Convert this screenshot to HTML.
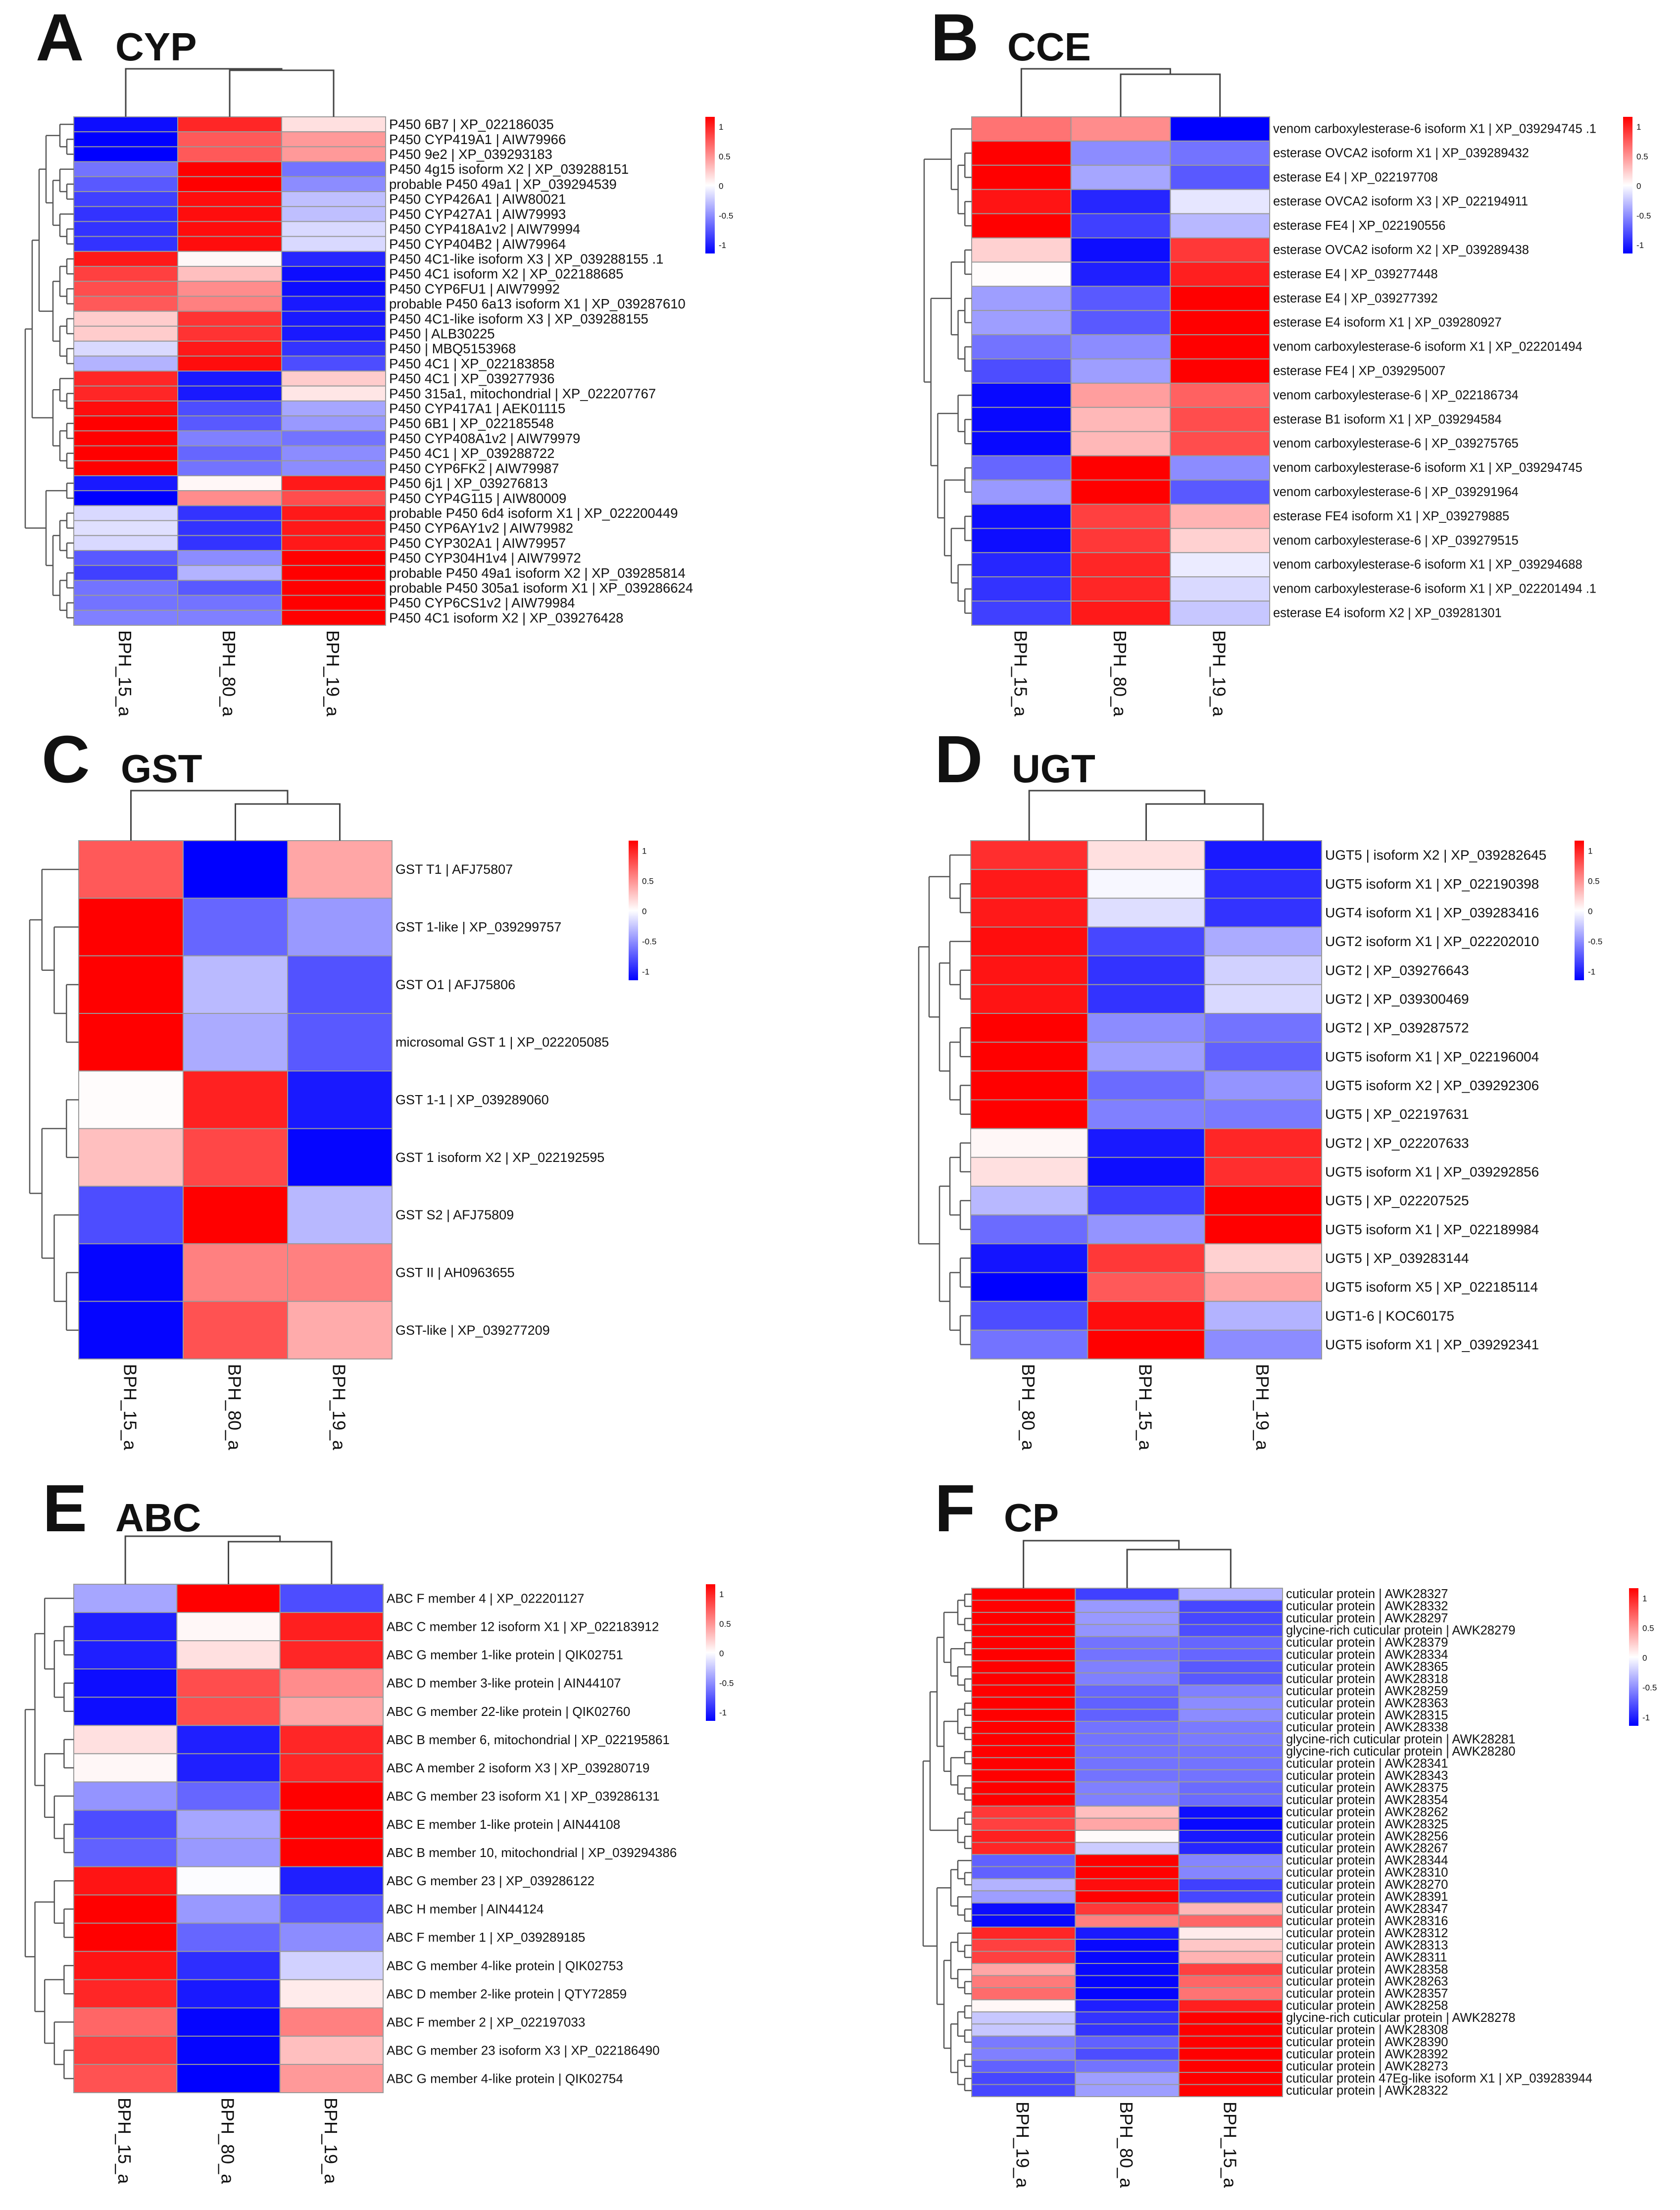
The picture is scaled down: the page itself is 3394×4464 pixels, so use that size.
<!DOCTYPE html>
<html><head><meta charset="utf-8"><style>
html,body{margin:0;padding:0;background:#fff;}
svg{display:block;}
text{font-family:"Liberation Sans",Arial,sans-serif;fill:#111;}
</style></head><body>
<svg id="fig" xmlns="http://www.w3.org/2000/svg" width="3394" height="4464" viewBox="0 0 3394 4464">
<rect width="3394" height="4464" fill="#fff"/>
</svg>
<script>
// ---------- Panel A: CYP ----------
const cypCols = ["BPH_15_a","BPH_80_a","BPH_19_a"];
const cypLabels = ["P450 6B7 | XP_022186035","P450 CYP419A1 | AIW79966","P450 9e2 | XP_039293183","P450 4g15 isoform X2 | XP_039288151","probable P450 49a1 | XP_039294539","P450 CYP426A1 | AIW80021","P450 CYP427A1 | AIW79993","P450 CYP418A1v2 | AIW79994","P450 CYP404B2 | AIW79964","P450 4C1-like isoform X3 | XP_039288155 .1","P450 4C1 isoform X2 | XP_022188685","P450 CYP6FU1 | AIW79992","probable P450 6a13 isoform X1 | XP_039287610","P450 4C1-like isoform X3 | XP_039288155","P450 | ALB30225","P450 | MBQ5153968","P450 4C1 | XP_022183858","P450 4C1 | XP_039277936","P450 315a1, mitochondrial | XP_022207767","P450 CYP417A1 | AEK01115","P450 6B1 | XP_022185548","P450 CYP408A1v2 | AIW79979","P450 4C1 | XP_039288722","P450 CYP6FK2 | AIW79987","P450 6j1 | XP_039276813","P450 CYP4G115 | AIW80009","probable P450 6d4 isoform X1 | XP_022200449","P450 CYP6AY1v2 | AIW79982","P450 CYP302A1 | AIW79957","P450 CYP304H1v4 | AIW79972","probable P450 49a1 isoform X2 | XP_039285814","probable P450 305a1 isoform X1 | XP_039286624","P450 CYP6CS1v2 | AIW79984","P450 4C1 isoform X2 | XP_039276428"];
const cypValues = [[-0.95,0.85,0.12],[-1,0.65,0.4],[-1,0.65,0.4],[-0.55,1,-0.55],[-0.65,1,-0.45],[-0.75,0.95,-0.25],[-0.8,0.95,-0.25],[-0.8,0.95,-0.15],[-0.8,0.95,-0.15],[0.9,0.03,-0.85],[0.75,0.25,-0.95],[0.7,0.45,-0.95],[0.65,0.5,-0.9],[0.2,0.8,-0.9],[0.2,0.8,-0.9],[-0.15,0.9,-0.8],[-0.3,0.95,-0.7],[0.85,-0.9,0.2],[0.85,-0.9,0.1],[0.95,-0.7,-0.35],[1,-0.65,-0.4],[1,-0.5,-0.55],[1,-0.6,-0.45],[1,-0.55,-0.45],[-0.9,0.03,0.9],[-1,0.45,0.7],[-0.15,-0.8,0.9],[-0.12,-0.8,0.9],[-0.15,-0.8,0.9],[-0.65,-0.45,1],[-0.75,-0.3,1],[-0.55,-0.65,1],[-0.55,-0.55,1],[-0.5,-0.5,1]];
const cypTree = [[[[3,6],[4,4]],7],[2,8]];

// ---------- Panel B: CCE ----------
const cceCols = ["BPH_15_a","BPH_80_a","BPH_19_a"];
const cceLabels = ["venom carboxylesterase-6 isoform X1 | XP_039294745 .1","esterase OVCA2 isoform X1 | XP_039289432","esterase E4 | XP_022197708","esterase OVCA2 isoform X3 | XP_022194911","esterase FE4 | XP_022190556","esterase OVCA2 isoform X2 | XP_039289438","esterase E4 | XP_039277448","esterase E4 | XP_039277392","esterase E4 isoform X1 | XP_039280927","venom carboxylesterase-6 isoform X1 | XP_022201494","esterase FE4 | XP_039295007","venom carboxylesterase-6 | XP_022186734","esterase B1 isoform X1 | XP_039294584"," venom carboxylesterase-6 | XP_039275765","venom carboxylesterase-6 isoform X1 | XP_039294745","venom carboxylesterase-6 | XP_039291964","esterase FE4 isoform X1 | XP_039279885","venom carboxylesterase-6 | XP_039279515","venom carboxylesterase-6 isoform X1 | XP_039294688","venom carboxylesterase-6 isoform X1 | XP_022201494 .1","esterase E4 isoform X2 | XP_039281301"];
const cceValues = [[0.55,0.45,-1],[1,-0.45,-0.55],[1,-0.35,-0.65],[0.92,-0.85,-0.1],[1,-0.75,-0.28],[0.18,-0.95,0.78],[0.01,-0.88,0.88],[-0.38,-0.65,1],[-0.38,-0.65,1],[-0.55,-0.45,1],[-0.7,-0.38,1],[-0.97,0.38,0.62],[-0.97,0.28,0.7],[-0.97,0.28,0.7],[-0.6,1,-0.45],[-0.4,1,-0.65],[-0.95,0.75,0.3],[-0.95,0.78,0.18],[-0.85,0.85,-0.08],[-0.8,0.85,-0.15],[-0.75,0.9,-0.22]];
const cceTree = [[1,[2,2]],[[2,4],[3,[2,5]]]];

// ---------- Panel C: GST ----------
const gstCols = ["BPH_15_a","BPH_80_a","BPH_19_a"];
const gstLabels = ["GST T1 | AFJ75807","GST 1-like | XP_039299757","GST O1 | AFJ75806","microsomal GST 1 | XP_022205085","GST 1-1 | XP_039289060","GST 1 isoform X2 | XP_022192595","GST S2 | AFJ75809","GST II | AH0963655","GST-like | XP_039277209"];
const gstValues = [[0.65,-1,0.35],[1,-0.6,-0.4],[1,-0.27,-0.68],[1,-0.33,-0.65],[0.01,0.87,-0.9],[0.25,0.72,-0.98],[-0.7,1,-0.28],[-0.98,0.5,0.5],[-0.98,0.68,0.33]];
const gstTree = [[1,[1,2]],[2,[1,2]]];

// ---------- Panel D: UGT ----------
const ugtCols = ["BPH_80_a","BPH_15_a","BPH_19_a"];
const ugtLabels = ["UGT5 | isoform X2 | XP_039282645","UGT5 isoform X1 | XP_022190398","UGT4 isoform X1 | XP_039283416","UGT2 isoform X1 | XP_022202010","UGT2 | XP_039276643","UGT2 | XP_039300469","UGT2 | XP_039287572","UGT5 isoform X1 | XP_022196004","UGT5 isoform X2 | XP_039292306","UGT5 | XP_022197631","UGT2 | XP_022207633","UGT5 isoform X1 | XP_039292856","UGT5 | XP_022207525","UGT5 isoform X1 | XP_022189984","UGT5 | XP_039283144","UGT5 isoform X5 | XP_022185114","UGT1-6 | KOC60175","UGT5 isoform X1 | XP_039292341"];
const ugtValues = [[0.82,0.12,-0.9],[0.9,-0.03,-0.82],[0.9,-0.13,-0.8],[0.95,-0.72,-0.33],[0.92,-0.8,-0.18],[0.92,-0.8,-0.15],[1,-0.45,-0.55],[1,-0.38,-0.62],[1,-0.58,-0.42],[1,-0.5,-0.52],[0.03,-0.9,0.85],[0.12,-0.95,0.82],[-0.28,-0.75,1],[-0.58,-0.42,1],[-0.92,0.78,0.18],[-1,0.65,0.35],[-0.7,0.95,-0.3],[-0.55,1,-0.45]];
const ugtTree = [[3,7],[4,4]];

// ---------- Panel E: ABC ----------
const abcCols = ["BPH_15_a","BPH_80_a","BPH_19_a"];
const abcLabels = ["ABC F  member 4 | XP_022201127","ABC C  member 12 isoform X1 | XP_022183912","ABC G member 1-like protein | QIK02751","ABC D member 3-like protein | AIN44107","ABC G member 22-like protein | QIK02760","ABC B member 6, mitochondrial | XP_022195861","ABC A member 2 isoform X3 | XP_039280719","ABC G  member 23 isoform X1 | XP_039286131","ABC E member 1-like protein | AIN44108","ABC B member 10, mitochondrial | XP_039294386","ABC G  member 23 | XP_039286122","ABC H member | AIN44124","ABC F member 1 | XP_039289185","ABC G member 4-like protein | QIK02753","ABC D member 2-like protein | QTY72859","ABC F member 2 | XP_022197033","ABC G  member 23 isoform X3 | XP_022186490","ABC G member 4-like protein | QIK02754"];
const abcValues = [[-0.35,1,-0.7],[-0.88,0.03,0.88],[-0.88,0.12,0.85],[-0.95,0.7,0.45],[-0.95,0.7,0.35],[0.12,-0.88,0.85],[0.03,-0.88,0.85],[-0.42,-0.6,1],[-0.7,-0.35,1],[-0.62,-0.4,1],[0.92,-0.01,-0.88],[1,-0.4,-0.65],[1,-0.6,-0.45],[0.92,-0.82,-0.18],[0.85,-0.9,0.08],[0.6,-0.98,0.5],[0.75,-0.98,0.25],[0.68,-1,0.4]];
const abcTree = [[[1,4],[2,3]],[3,[2,3]]];

// ---------- Panel F: CP ----------
const cpCols = ["BPH_19_a","BPH_80_a","BPH_15_a"];
const cpLabels = ["cuticular protein | AWK28327","cuticular protein | AWK28332","cuticular protein | AWK28297","glycine-rich cuticular protein | AWK28279","cuticular protein | AWK28379","cuticular protein | AWK28334","cuticular protein | AWK28365","cuticular protein | AWK28318","cuticular protein | AWK28259","cuticular protein | AWK28363","cuticular protein | AWK28315","cuticular protein | AWK28338","glycine-rich cuticular protein | AWK28281","glycine-rich cuticular protein | AWK28280","cuticular protein | AWK28341","cuticular protein | AWK28343","cuticular protein | AWK28375","cuticular protein | AWK28354","cuticular protein | AWK28262","cuticular protein | AWK28325","cuticular protein | AWK28256","cuticular protein | AWK28267","cuticular protein | AWK28344","cuticular protein | AWK28310","cuticular protein | AWK28270","cuticular protein | AWK28391","cuticular protein | AWK28347","cuticular protein | AWK28316","cuticular protein | AWK28312","cuticular protein | AWK28313","cuticular protein | AWK28311","cuticular protein | AWK28358","cuticular protein | AWK28263","cuticular protein | AWK28357","cuticular protein | AWK28258","glycine-rich cuticular protein | AWK28278","cuticular protein | AWK28308","cuticular protein | AWK28390","cuticular protein | AWK28392","cuticular protein | AWK28273","cuticular protein 47Eg-like isoform X1 | XP_039283944","cuticular protein | AWK28322"];
const cpValues = [[1,-0.75,-0.3],[1,-0.4,-0.72],[1,-0.4,-0.72],[1,-0.42,-0.7],[1,-0.55,-0.6],[1,-0.55,-0.6],[1,-0.5,-0.65],[1,-0.5,-0.65],[1,-0.6,-0.5],[1,-0.62,-0.45],[1,-0.62,-0.45],[1,-0.55,-0.52],[1,-0.55,-0.52],[1,-0.55,-0.55],[1,-0.55,-0.55],[1,-0.55,-0.55],[1,-0.5,-0.58],[1,-0.5,-0.58],[0.78,0.25,-0.95],[0.75,0.35,-0.97],[0.88,0.02,-0.9],[0.85,-0.2,-0.85],[-0.62,1,-0.48],[-0.62,1,-0.48],[-0.3,0.95,-0.75],[-0.38,1,-0.72],[-0.95,0.78,0.28],[-0.97,0.5,0.6],[0.85,-0.9,0.08],[0.75,-0.97,0.22],[0.75,-0.97,0.3],[0.35,-0.97,0.75],[0.52,-0.98,0.6],[0.58,-0.98,0.55],[0.03,-0.88,0.88],[-0.22,-0.8,1],[-0.22,-0.8,1],[-0.52,-0.62,1],[-0.5,-0.7,1],[-0.62,-0.55,1],[-0.72,-0.38,1],[-0.72,-0.38,1]];
const cpTree = [[18,4],[6,[6,8]]];

const NS = "http://www.w3.org/2000/svg";
const svg = document.getElementById("fig");
function mk(tag, attrs, parent){
  const e = document.createElementNS(NS, tag);
  for (const k in attrs) e.setAttribute(k, attrs[k]);
  (parent||svg).appendChild(e);
  return e;
}
function color(v){
  v = Math.max(-1, Math.min(1, v));
  let r,g,b;
  if (v >= 0){ r=255; g=Math.round(255*(1-v)); b=g; }
  else { b=255; r=Math.round(255*(1+v)); g=r; }
  return "rgb("+r+","+g+","+b+")";
}
function expand(node){
  if (typeof node === "number"){
    if (node === 1) return {leaf:true};
    const a = Math.floor(node/2);
    return [expand(a), expand(node-a)];
  }
  return node.map(expand);
}

function drawPanel(p){
  const g = mk("g", {});
  
  
  const n = p.labels.length;
  const rh = (p.y1 - p.y0)/n;
  const cw = (p.x1 - p.x0)/p.cols.length;
  const xScale = c => p.x0 + c*cw;
  const yScale = r => p.y0 + r*rh;

  const L = mk("text", {x:p.lx, y:p.ly, "font-size":135, "font-weight":"bold"}, g);
  L.textContent = p.letter;
  
  
  const T = mk("text", {x:p.tx, y:p.ly, "font-size":80, "font-weight":"bold"}, g);
  T.textContent = p.title;
  
  

  const cells = mk("g", {}, g);
  
  
  p.values.forEach((row, r) => {
    row.forEach((v, c) => {
      const rc = mk("rect", {x:xScale(c), y:yScale(r), width:cw, height:rh, fill:color(v), stroke:"#9a9a9a", "stroke-width":2}, cells);
      
      
    });
  });

  p.labels.forEach((lab, r) => {
    const t = mk("text", {x:p.x1+7, y:yScale(r)+rh/2, "font-size":p.fs, "dominant-baseline":"central", "xml:space":"preserve"}, g);
    t.textContent = lab;
    
    
  });

  p.cols.forEach((lab, c) => {
    const cx = xScale(c) + cw/2 - 14, cy = p.y1 + 10;
    const t = mk("text", {x:cx, y:cy, "font-size":36, transform:"rotate(90 "+cx+" "+cy+")"}, g);
    t.textContent = lab;
    
    
  });

  const cd = mk("g", {stroke:"#444", "stroke-width":3, fill:"none"}, g);
  
  
  const c0 = xScale(0)+cw/2, c1 = xScale(1)+cw/2, c2 = xScale(2)+cw/2, cm = (c1+c2)/2;
  mk("path", {d:"M"+c1+" "+p.y0+"V"+p.innerY+"H"+c2+"V"+p.y0}, cd);
  mk("path", {d:"M"+c0+" "+p.y0+"V"+p.outerY+"H"+cm+"V"+p.innerY}, cd);

  const rd = mk("g", {stroke:"#555", "stroke-width":2.5, fill:"none"}, g);
  
  
  const tree = expand(p.tree);
  let leafIdx = 0;
  function layout(nd){
    if (nd.leaf){ nd.h=0; nd.y=yScale(leafIdx)+rh/2; leafIdx++; return; }
    nd.forEach(layout);
    nd.h = 1 + Math.max(...nd.map(c=>c.h));
    nd.y = (nd[0].y + nd[nd.length-1].y)/2;
  }
  layout(tree);
  const maxH = tree.h;
  const hx = h => p.x0 - (h/maxH)*(p.x0 - p.dx);
  function drawNode(nd){
    if (nd.leaf) return;
    const X = hx(nd.h);
    const ys = nd.map(c=>c.y);
    mk("path", {d:"M"+X+" "+Math.min(...ys)+"V"+Math.max(...ys)}, rd);
    nd.forEach(c => {
      mk("path", {d:"M"+X+" "+c.y+"H"+hx(c.h)}, rd);
      drawNode(c);
    });
  }
  drawNode(tree);

  const lg = mk("g", {}, g);
  
  
  const gid = "grad-"+p.name;
  const defs = mk("defs", {}, lg);
  const grad = mk("linearGradient", {id:gid, x1:0, y1:0, x2:0, y2:1}, defs);
  mk("stop", {offset:"0", "stop-color":"#ff0000"}, grad);
  mk("stop", {offset:"0.5", "stop-color":"#ffffff"}, grad);
  mk("stop", {offset:"1", "stop-color":"#0000ff"}, grad);
  mk("rect", {x:p.cbx, y:p.cby0, width:19, height:p.cby1-p.cby0, fill:"url(#"+gid+")"}, lg);
  const ticks = [1,0.5,0,-0.5,-1];
  const tTop = p.cby0 + (p.cby1-p.cby0)*0.075, tBot = p.cby1 - (p.cby1-p.cby0)*0.06;
  ticks.forEach(tv => {
    const ty = tTop + (1-tv)/2*(tBot-tTop);
    const t = mk("text", {x:p.cbx+27, y:ty, "font-size":17, "dominant-baseline":"central", fill:"#333"}, lg);
    t.textContent = tv;
    
    
  });
}

const panels = [
  {name:"cyp", letter:"A", title:"CYP", lx:72, tx:233, ly:122, x0:149, x1:779, y0:236, y1:1263, dx:51, outerY:139, innerY:142, cbx:1425, cby0:236, cby1:512, fs:27.5, cols:cypCols, labels:cypLabels, values:cypValues, tree:cypTree},
  {name:"cce", letter:"B", title:"CCE", lx:1880, tx:2035, ly:122, x0:1963, x1:2565, y0:236, y1:1263, dx:1867, outerY:139, innerY:150, cbx:3279, cby0:236, cby1:512, fs:25.5, cols:cceCols, labels:cceLabels, values:cceValues, tree:cceTree},
  {name:"gst", letter:"C", title:"GST", lx:84, tx:244, ly:1580, x0:159, x1:792, y0:1698, y1:2745, dx:60, outerY:1597, innerY:1624, cbx:1270, cby0:1698, cby1:1980, fs:27, cols:gstCols, labels:gstLabels, values:gstValues, tree:gstTree},
  {name:"ugt", letter:"D", title:"UGT", lx:1888, tx:2044, ly:1580, x0:1961, x1:2670, y0:1698, y1:2745, dx:1856, outerY:1597, innerY:1624, cbx:3181, cby0:1698, cby1:1980, fs:28, cols:ugtCols, labels:ugtLabels, values:ugtValues, tree:ugtTree},
  {name:"abc", letter:"E", title:"ABC", lx:86, tx:233, ly:3093, x0:149, x1:774, y0:3200, y1:4227, dx:51, outerY:3103, innerY:3114, cbx:1426, cby0:3200, cby1:3476, fs:26, cols:abcCols, labels:abcLabels, values:abcValues, tree:abcTree},
  {name:"cp", letter:"F", title:"CP", lx:1888, tx:2028, ly:3093, x0:1963, x1:2591, y0:3208, y1:4235, dx:1865, outerY:3112, innerY:3130, cbx:3291, cby0:3208, cby1:3486, fs:25.5, cols:cpCols, labels:cpLabels, values:cpValues, tree:cpTree}
];
panels.forEach(drawPanel);
</script>
</body></html>
